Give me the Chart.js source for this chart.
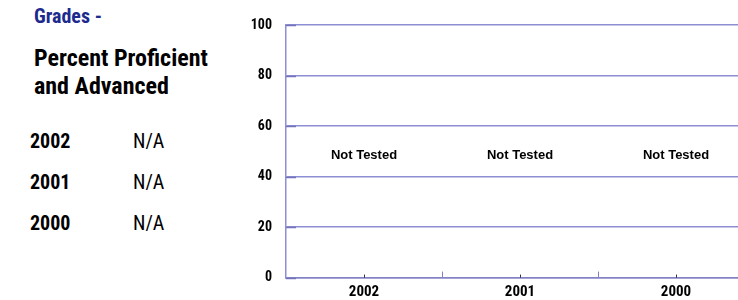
<!DOCTYPE html>
<html>
<head>
<meta charset="utf-8">
<script src="https://cdn.jsdelivr.net/npm/chart.js@4/dist/chart.umd.min.js"></script>
<style>
  html, body { margin:0; padding:0; width:738px; height:300px; overflow:hidden; background:#fff; }
  .narrow { font-family: "Roboto Condensed", "Liberation Sans Narrow", sans-serif; font-weight:bold; line-height:1; }
  #side { position:absolute; left:0; top:0; width:240px; height:300px; }
  #t1 { position:absolute; left:34px; top:6px; font-size:20px; color:#1c2a8e; }
  #t2 { position:absolute; left:34px; top:44px; font-size:24px; line-height:28px; color:#000; }
  .yr { position:absolute; left:30px; font-size:20px; color:#000; }
  .na { position:absolute; left:133px; font-size:20px; color:#000; font-weight:normal; }
  #wrap { position:absolute; left:240px; top:0; width:520px; height:300px; }
</style>
</head>
<body>
<div id="side">
  <div id="t1" class="narrow">Grades -</div>
  <div id="t2" class="narrow">Percent Proficient<br>and Advanced</div>
</div>
<div id="wrap"><canvas id="c"></canvas></div>
<script>
const categories = ['2002', '2001', '2000'];
const values = [null, null, null];
const notes = ['Not Tested', 'Not Tested', 'Not Tested'];
const summaryValues = ['N/A', 'N/A', 'N/A'];
const yTicks = [0, 20, 40, 60, 80, 100];

// left-hand summary table
const side = document.getElementById('side');
categories.forEach((c, i) => {
  const top = 131 + i * 41;
  const y = document.createElement('div');
  y.className = 'yr narrow'; y.style.top = top + 'px'; y.textContent = c;
  const n = document.createElement('div');
  n.className = 'na narrow'; n.style.top = top + 'px'; n.textContent = summaryValues[i];
  side.appendChild(y); side.appendChild(n);
});

const gridColor = '#8e8ed4';
const axisColor = '#8282c2';
const narrowFont = '"Roboto Condensed", "Liberation Sans Narrow", sans-serif';

const extras = {
  id: 'extras',
  afterDraw(chart) {
    const ctx = chart.ctx, xs = chart.scales.x, ys = chart.scales.y, a = chart.chartArea;
    ctx.save();
    // inward tick marks on y axis
    ctx.strokeStyle = '#7474bc';
    ctx.lineWidth = 1.5;
    yTicks.forEach(v => {
      const py = Math.round(ys.getPixelForValue(v)) + 0.5;
      ctx.beginPath(); ctx.moveTo(a.left, py); ctx.lineTo(a.left + 10, py); ctx.stroke();
    });
    // category boundary ticks (inward)
    ctx.lineWidth = 1;
    ctx.strokeStyle = axisColor;
    for (let i = 1; i < categories.length; i++) {
      const px = Math.round((xs.getPixelForValue(i - 1) + xs.getPixelForValue(i)) / 2) + 0.5;
      ctx.beginPath(); ctx.moveTo(px, a.bottom); ctx.lineTo(px, a.bottom - 6); ctx.stroke();
    }
    // small center ticks
    ctx.strokeStyle = '#333';
    categories.forEach((c, i) => {
      const px = Math.round(xs.getPixelForValue(i)) + 0.5;
      ctx.beginPath(); ctx.moveTo(px, a.bottom); ctx.lineTo(px, a.bottom - 3); ctx.stroke();
    });
    // "Not Tested" notes
    ctx.fillStyle = '#000';
    ctx.font = 'bold 13px "Liberation Sans", Arial, sans-serif';
    ctx.textAlign = 'center';
    ctx.textBaseline = 'middle';
    categories.forEach((c, i) => {
      if (values[i] === null) {
        ctx.fillText(notes[i], xs.getPixelForValue(i), ys.getPixelForValue(48.5));
      }
    });
    ctx.restore();
  }
};

new Chart(document.getElementById('c'), {
  type: 'bar',
  data: { labels: categories, datasets: [{ data: values, backgroundColor: '#3333aa' }] },
  options: {
    responsive: true,
    maintainAspectRatio: false,
    animation: false,
    layout: { padding: { top: 25, right: 6, left: 0, bottom: 0 } },
    plugins: { legend: { display: false }, tooltip: { enabled: false } },
    scales: {
      x: {
        offset: true,
        afterFit(scale) { scale.height = 22; },
        grid: { display: false, offset: true, drawTicks: false },
        border: { display: true, color: axisColor, width: 1.5 },
        ticks: { color: '#000', font: { family: narrowFont, weight: 'bold', size: 15 }, padding: 6 },
      },
      y: {
        min: 0, max: 100,
        afterFit(scale) { scale.width = 46; },
        afterBuildTicks(scale) { scale.ticks = yTicks.map(v => ({ value: v })); },
        grid: { color: gridColor, lineWidth: 1.5, drawTicks: false },
        border: { display: true, color: gridColor, width: 1.5 },
        ticks: { color: '#000', font: { family: narrowFont, weight: 'bold', size: 14 }, padding: 14 },
      }
    }
  },
  plugins: [extras]
});
</script>
</body>
</html>
